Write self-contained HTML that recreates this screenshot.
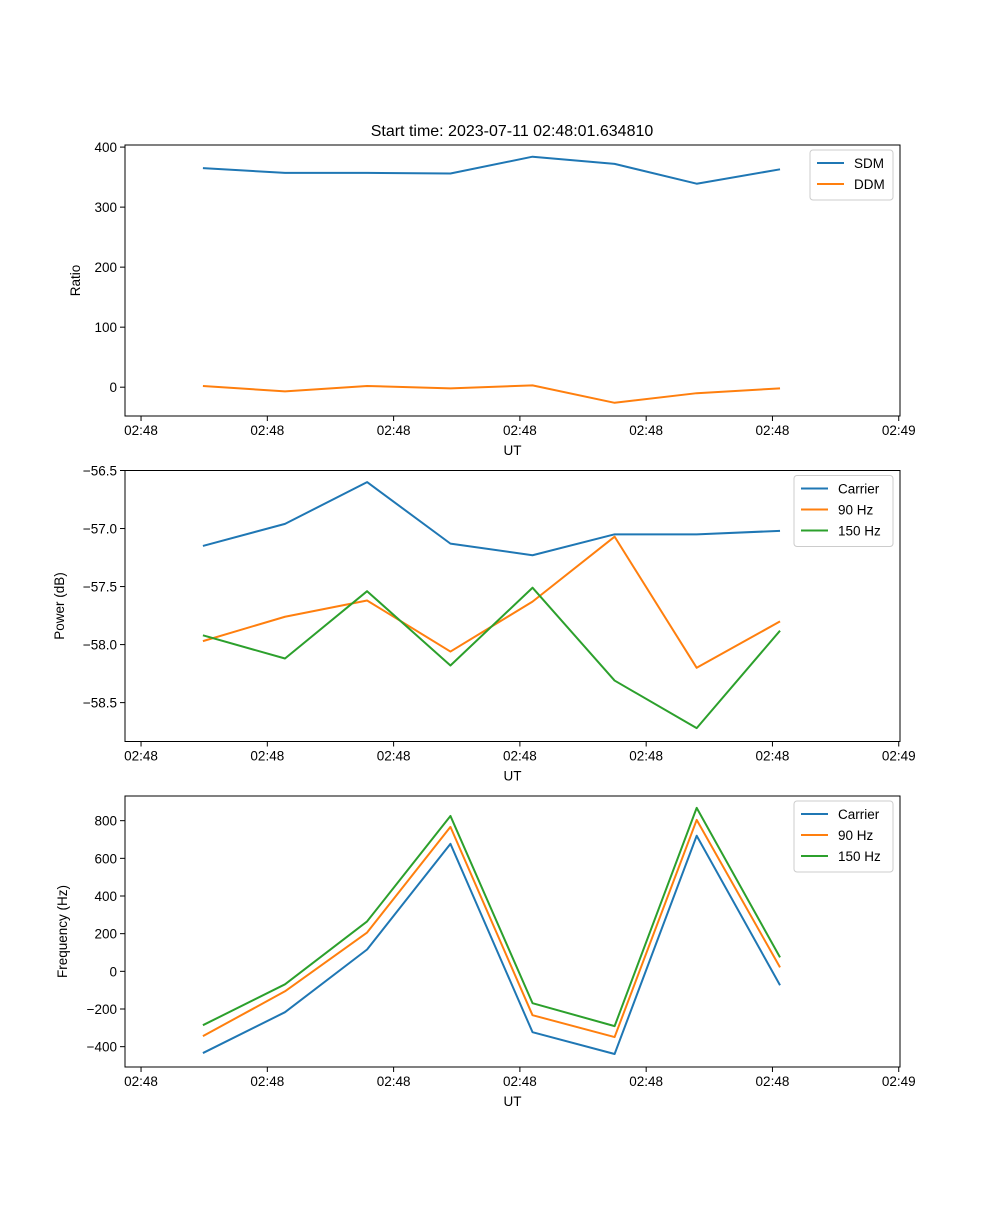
<!DOCTYPE html>
<html><head><meta charset="utf-8"><style>
body{margin:0;background:#fff}
svg text{font-family:"Liberation Sans","DejaVu Sans",sans-serif;font-size:13.5px;fill:#000}
</style></head><body>
<svg id="fig" width="1000" height="1200" xmlns="http://www.w3.org/2000/svg">
<rect width="1000" height="1200" fill="#fff"/>
<text x="512" y="136" text-anchor="middle" style="font-size:16px">Start time: 2023-07-11 02:48:01.634810</text>
</svg>
<script>
const times = [4.9, 11.4, 17.9, 24.5, 31.0, 37.5, 44.0, 50.6];
const xTicks = [0, 10, 20, 30, 40, 50, 60];
const xTickLabels = ["02:48","02:48","02:48","02:48","02:48","02:48","02:49"];
const sdm = [365, 357, 357, 356, 384, 372, 339, 363];
const ddm = [2, -7, 2, -2, 3, -26, -10, -2];
const powCarrier = [-57.15, -56.96, -56.60, -57.13, -57.23, -57.05, -57.05, -57.02];
const pow90 = [-57.97, -57.76, -57.62, -58.06, -57.63, -57.07, -58.20, -57.80];
const pow150 = [-57.92, -58.12, -57.54, -58.18, -57.51, -58.31, -58.72, -57.88];
const freqCarrier = [-434, -217, 116, 677, -323, -439, 720, -74];
const freq90 = [-344, -106, 206, 767, -233, -349, 804, 21];
const freq150 = [-286, -69, 265, 825, -169, -291, 868, 74];
const ratioTicks = [0, 100, 200, 300, 400];
const powTicks = [-58.5, -58.0, -57.5, -57.0, -56.5];
const freqTicks = [-400, -200, 0, 200, 400, 600, 800];

const NS = "http://www.w3.org/2000/svg";
const svg = document.getElementById('fig');
const C = ['#1f77b4', '#ff7f0e', '#2ca02c'];
function mk(tag, attrs, parent) {
  const e = document.createElementNS(NS, tag);
  for (const k in attrs) e.setAttribute(k, attrs[k]);
  (parent || svg).appendChild(e);
  return e;
}
function panel(cfg) {
  const L = 125, R = 900, T = cfg.top, B = cfg.top + 271;
  const xlo = -1.27, xhi = 60.1;
  const sx = v => L + (v - xlo) / (xhi - xlo) * (R - L);
  const sy = v => B - (v - cfg.ylo) / (cfg.yhi - cfg.ylo) * (B - T);
  const g = mk('g', {});
  
  
  cfg.series.forEach((s, i) => {
    const p = mk('polyline', {points: times.map((t, j) => sx(t) + ',' + sy(s.data[j])).join(' '), fill: 'none', stroke: C[i], 'stroke-width': 2, 'stroke-linejoin': 'round'}, g);
    
    
  });
  const fr = mk('rect', {x: L, y: T, width: R - L, height: B - T, fill: 'none', stroke: '#000', 'stroke-width': 1}, g);
  
  
  xTicks.forEach((v, i) => {
    const x = sx(v);
    mk('line', {x1: x, x2: x, y1: B, y2: B + 5, stroke: '#000'}, g);
    const t = mk('text', {x: x, y: B + 19, 'text-anchor': 'middle'}, g);
    t.textContent = xTickLabels[i];
    
    
  });
  cfg.yticks.forEach(v => {
    const y = sy(v);
    mk('line', {x1: L - 5, x2: L, y1: y, y2: y, stroke: '#000'}, g);
    const t = mk('text', {x: L - 8, y: y + 5, 'text-anchor': 'end'}, g);
    t.textContent = (v < 0 ? '\u2212' : '') + (cfg.dec ? Math.abs(v).toFixed(1) : Math.abs(v));
    
    
  });
  const xl = mk('text', {x: (L + R) / 2, y: B + 39, 'text-anchor': 'middle'}, g);
  xl.textContent = 'UT';
  
  
  const yl = mk('text', {x: cfg.ylx, y: (T + B) / 2, 'text-anchor': 'middle', transform: 'rotate(-90 ' + cfg.ylx + ' ' + (T + B) / 2 + ')'}, g);
  yl.textContent = cfg.ylabel;
  
  
  const lw = cfg.legW, lx = 893 - lw, ly = T + 5, lh = 8 + cfg.series.length * 21;
  const lg = mk('g', {}, g);
  
  
  mk('rect', {x: lx, y: ly, width: lw, height: lh, rx: 3, fill: '#fff', 'fill-opacity': 0.8, stroke: '#ccc'}, lg);
  cfg.series.forEach((s, i) => {
    const yy = ly + 13 + i * 21;
    mk('line', {x1: lx + 7, x2: lx + 34, y1: yy, y2: yy, stroke: C[i], 'stroke-width': 2}, lg);
    const t = mk('text', {x: lx + 44, y: yy + 5}, lg);
    t.textContent = s.label;
    
    
  });
}
panel({name: 'ratio-panel', top: 145, ylo: -48, yhi: 403.5, yticks: ratioTicks, ylabel: 'Ratio', ylx: 80, legW: 83,
  series: [{id: 'sdm', label: 'SDM', data: sdm}, {id: 'ddm', label: 'DDM', data: ddm}]});
panel({name: 'power-panel', top: 470.5, ylo: -58.835, yhi: -56.5, yticks: powTicks, dec: true, ylabel: 'Power (dB)', ylx: 64, legW: 99,
  series: [{id: 'carrier', label: 'Carrier', data: powCarrier}, {id: 'hz90', label: '90 Hz', data: pow90}, {id: 'hz150', label: '150 Hz', data: pow150}]});
panel({name: 'frequency-panel', top: 796, ylo: -508, yhi: 931, yticks: freqTicks, ylabel: 'Frequency (Hz)', ylx: 67, legW: 99,
  series: [{id: 'carrier', label: 'Carrier', data: freqCarrier}, {id: 'hz90', label: '90 Hz', data: freq90}, {id: 'hz150', label: '150 Hz', data: freq150}]});
</script>
</body></html>
